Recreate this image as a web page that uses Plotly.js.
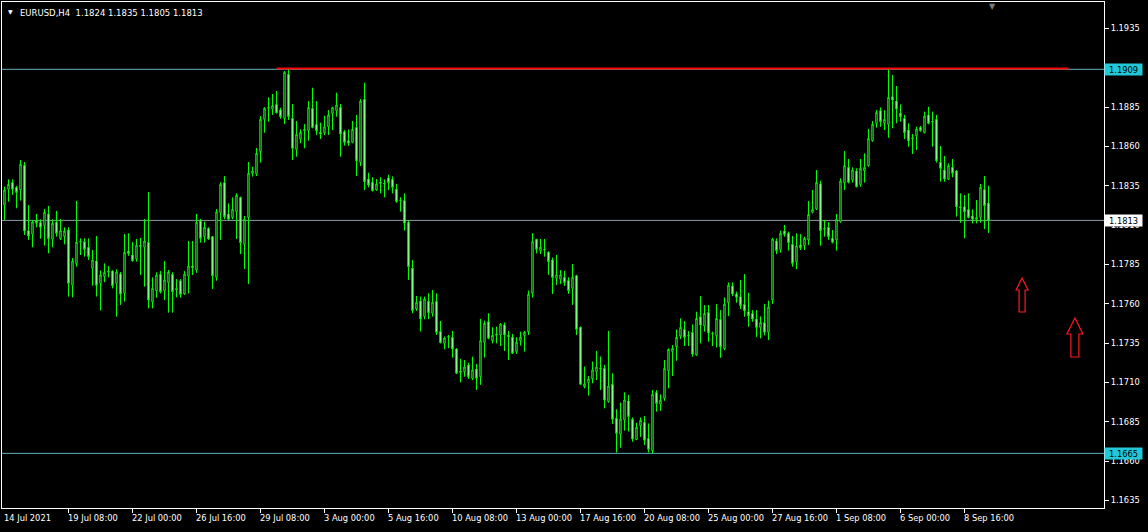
<!DOCTYPE html>
<html><head><meta charset="utf-8">
<script src="https://cdn.plot.ly/plotly-3.0.1.min.js"></script>
<style>html,body{margin:0;padding:0;background:#000;overflow:hidden}#chart{width:1148px;height:532px}</style>
</head><body><div id="chart"></div>
<script>
const symbolName = 'EURUSD,H4';
const openP = [
1.18228,1.18328,1.18370,1.18340,1.18323,1.18480,1.18065,1.18042,1.18126,1.18116,
1.18097,1.18171,1.18010,1.18118,1.18014,1.18027,1.18069,1.17718,1.17857,1.17991,
1.17995,1.17959,1.17826,1.17872,1.17730,1.17773,1.17800,1.17809,1.17730,1.17790,
1.17667,1.17935,1.17910,1.17885,1.17972,1.17959,1.17991,1.17613,1.17683,1.17787,
1.17683,1.17734,1.17787,1.17687,1.17747,1.17662,1.17776,1.17840,1.17815,1.18128,
1.18027,1.18079,1.18027,1.17768,1.18179,1.18370,1.18171,1.18149,1.18185,1.18276,
1.17978,1.18149,1.18429,1.18425,1.18567,1.18772,1.18842,1.18838,1.18867,1.18831,
1.18778,1.19058,1.18778,1.18581,1.18647,1.18700,1.18700,1.18842,1.18740,1.18689,
1.18687,1.18725,1.18810,1.18827,1.18848,1.18694,1.18636,1.18626,1.18721,1.18499,
1.18899,1.18393,1.18372,1.18323,1.18372,1.18366,1.18400,1.18390,1.18328,1.18255,
1.18256,1.18118,1.17826,1.17567,1.17618,1.17519,1.17616,1.17540,1.17616,1.17424,
1.17349,1.17387,1.17387,1.17313,1.17163,1.17169,1.17211,1.17127,1.17186,1.17137,
1.17356,1.17487,1.17366,1.17400,1.17402,1.17466,1.17400,1.17388,1.17296,1.17366,
1.17398,1.17423,1.17667,1.18010,1.17938,1.17947,1.17928,1.17879,1.17762,1.17756,
1.17769,1.17748,1.17699,1.17779,1.17451,1.17074,1.17100,1.17123,1.17169,1.17190,
1.17190,1.16979,1.17089,1.16873,1.16771,1.16862,1.16983,1.16866,1.16738,1.16826,
1.16847,1.16745,1.16667,1.17037,1.16963,1.16999,1.17175,1.17296,1.17327,1.17395,
1.17437,1.17401,1.17418,1.17274,1.17518,1.17459,1.17545,1.17412,1.17397,1.17501,
1.17315,1.17607,1.17713,1.17662,1.17645,1.17596,1.17550,1.17539,1.17503,1.17450,
1.17480,1.17420,1.17625,1.17999,1.17946,1.18062,1.18048,1.17978,1.17868,1.17974,
1.17969,1.18006,1.18181,1.18202,1.18361,1.18079,1.18086,1.18016,1.18006,1.18122,
1.18370,1.18467,1.18387,1.18444,1.18359,1.18446,1.18478,1.18636,1.18747,1.18827,
1.18747,1.18740,1.18916,1.18888,1.18810,1.18778,1.18704,1.18655,1.18668,1.18721,
1.18687,1.18800,1.18760,1.18772,1.18499,1.18450,1.18391,1.18467,1.18444,1.18217,
1.18217,1.18200,1.18158,1.18137,1.18149,1.18327,1.18240];
const highP = [
1.18344,1.18391,1.18391,1.18349,1.18514,1.18501,1.18228,1.18133,1.18171,1.18137,
1.18203,1.18222,1.18137,1.18190,1.18139,1.18086,1.18086,1.17891,1.18254,1.18016,
1.18016,1.18016,1.17942,1.18031,1.17811,1.17857,1.17840,1.17811,1.17819,1.17802,
1.18044,1.18048,1.17993,1.18012,1.18020,1.18139,1.18310,1.17768,1.17800,1.17808,
1.17872,1.17815,1.17800,1.17757,1.17757,1.17808,1.17999,1.17999,1.18171,1.18139,
1.18122,1.18086,1.18031,1.18202,1.18372,1.18412,1.18238,1.18276,1.18302,1.18281,
1.18158,1.18501,1.18471,1.18590,1.18793,1.18848,1.18912,1.18933,1.18952,1.18846,
1.19079,1.19090,1.18869,1.18761,1.18708,1.18742,1.18888,1.18973,1.18888,1.18751,
1.18795,1.18831,1.18852,1.18941,1.18869,1.18704,1.18708,1.18761,1.18800,1.18901,
1.19005,1.18433,1.18404,1.18393,1.18404,1.18390,1.18420,1.18410,1.18362,1.18277,
1.18302,1.18129,1.17879,1.17650,1.17646,1.17646,1.17667,1.17688,1.17667,1.17491,
1.17392,1.17402,1.17428,1.17318,1.17250,1.17243,1.17226,1.17264,1.17218,1.17504,
1.17493,1.17540,1.17451,1.17455,1.17476,1.17481,1.17428,1.17409,1.17388,1.17423,
1.17428,1.17684,1.18048,1.18012,1.18012,1.18012,1.17932,1.17894,1.17911,1.17815,
1.17809,1.17769,1.17853,1.17784,1.17455,1.17201,1.17142,1.17233,1.17301,1.17265,
1.17212,1.17428,1.17159,1.16930,1.16972,1.17038,1.17021,1.16878,1.16844,1.16878,
1.16887,1.16840,1.17052,1.17052,1.17025,1.17243,1.17317,1.17338,1.17437,1.17507,
1.17490,1.17427,1.17469,1.17550,1.17649,1.17592,1.17592,1.17423,1.17598,1.17560,
1.17641,1.17736,1.17736,1.17677,1.17751,1.17789,1.17670,1.17560,1.17560,1.17520,
1.17600,1.17620,1.18020,1.18016,1.18065,1.18101,1.18058,1.18031,1.18048,1.18043,
1.18027,1.18253,1.18323,1.18450,1.18382,1.18133,1.18118,1.18069,1.18171,1.18397,
1.18571,1.18520,1.18467,1.18461,1.18520,1.18556,1.18711,1.18761,1.18831,1.18848,
1.18831,1.19090,1.19054,1.18984,1.18867,1.18800,1.18747,1.18679,1.18725,1.18730,
1.18821,1.18852,1.18821,1.18800,1.18603,1.18539,1.18492,1.18520,1.18450,1.18302,
1.18291,1.18302,1.18200,1.18259,1.18361,1.18412,1.18350];
const lowP = [
1.18133,1.18249,1.18292,1.18207,1.18256,1.18037,1.18006,1.17959,1.18086,1.18014,
1.17970,1.17921,1.17959,1.18027,1.18006,1.17978,1.17646,1.17641,1.17836,1.17910,
1.17900,1.17879,1.17715,1.17646,1.17557,1.17737,1.17768,1.17698,1.17518,1.17593,
1.17614,1.17905,1.17868,1.17868,1.17783,1.17709,1.17571,1.17571,1.17639,1.17666,
1.17624,1.17544,1.17544,1.17641,1.17639,1.17656,1.17666,1.17783,1.17797,1.17989,
1.17989,1.18006,1.17694,1.17747,1.18006,1.18137,1.18133,1.18137,1.18012,1.17916,
1.17821,1.17726,1.18408,1.18412,1.18497,1.18687,1.18757,1.18800,1.18810,1.18776,
1.18742,1.18768,1.18514,1.18535,1.18620,1.18588,1.18636,1.18715,1.18672,1.18647,
1.18672,1.18672,1.18704,1.18789,1.18535,1.18605,1.18603,1.18620,1.18412,1.18475,
1.18323,1.18340,1.18314,1.18317,1.18302,1.18277,1.18323,1.18302,1.18243,1.18186,
1.18065,1.17752,1.17540,1.17555,1.17424,1.17502,1.17502,1.17519,1.17402,1.17349,
1.17311,1.17318,1.17258,1.17154,1.17101,1.17137,1.17123,1.17116,1.17053,1.17085,
1.17258,1.17375,1.17349,1.17349,1.17332,1.17300,1.17243,1.17282,1.17282,1.17335,
1.17296,1.17402,1.17640,1.17921,1.17917,1.17900,1.17784,1.17663,1.17720,1.17726,
1.17714,1.17663,1.17593,1.17402,1.17085,1.17063,1.17017,1.17095,1.17116,1.17053,
1.16936,1.16972,1.16837,1.16655,1.16686,1.16794,1.16788,1.16724,1.16734,1.16755,
1.16703,1.16655,1.16650,1.16914,1.16921,1.16984,1.17063,1.17141,1.17238,1.17376,
1.17332,1.17332,1.17264,1.17270,1.17349,1.17423,1.17359,1.17332,1.17323,1.17257,
1.17306,1.17522,1.17649,1.17607,1.17567,1.17518,1.17454,1.17486,1.17390,1.17380,
1.17400,1.17370,1.17600,1.17916,1.17925,1.18027,1.17938,1.17836,1.17821,1.17942,
1.17942,1.17974,1.18175,1.18196,1.17969,1.18027,1.18006,1.17984,1.17938,1.18115,
1.18323,1.18365,1.18370,1.18340,1.18344,1.18370,1.18471,1.18630,1.18719,1.18725,
1.18704,1.18655,1.18715,1.18747,1.18757,1.18647,1.18598,1.18552,1.18577,1.18694,
1.18683,1.18740,1.18598,1.18497,1.18376,1.18376,1.18387,1.18404,1.18154,1.18115,
1.18016,1.18143,1.18111,1.18111,1.18115,1.18075,1.18050];
const closeP = [
1.18323,1.18359,1.18328,1.18308,1.18486,1.18063,1.18031,1.18120,1.18112,1.18086,
1.18181,1.18014,1.18112,1.18048,1.18065,1.18063,1.17730,1.17872,1.17991,1.17997,
1.17946,1.17900,1.17879,1.17718,1.17783,1.17800,1.17809,1.17715,1.17802,1.17662,
1.17927,1.17919,1.17874,1.17972,1.17965,1.17999,1.17624,1.17698,1.17783,1.17677,
1.17751,1.17802,1.17677,1.17698,1.17660,1.17789,1.17840,1.17830,1.18118,1.18016,
1.18086,1.18012,1.17778,1.18185,1.18359,1.18154,1.18137,1.18200,1.18289,1.17988,
1.18137,1.18429,1.18444,1.18556,1.18772,1.18842,1.18848,1.18859,1.18814,1.18789,
1.19071,1.18789,1.18588,1.18677,1.18689,1.18708,1.18848,1.18721,1.18700,1.18679,
1.18725,1.18800,1.18846,1.18863,1.18679,1.18626,1.18620,1.18708,1.18509,1.18888,
1.18376,1.18355,1.18319,1.18361,1.18366,1.18362,1.18370,1.18340,1.18249,1.18256,
1.18112,1.17836,1.17557,1.17610,1.17504,1.17631,1.17544,1.17610,1.17419,1.17353,
1.17383,1.17392,1.17313,1.17159,1.17173,1.17199,1.17137,1.17180,1.17127,1.17366,
1.17476,1.17381,1.17400,1.17409,1.17472,1.17402,1.17392,1.17286,1.17356,1.17388,
1.17419,1.17661,1.17995,1.17947,1.17959,1.17942,1.17868,1.17767,1.17784,1.17784,
1.17735,1.17684,1.17769,1.17438,1.17089,1.17091,1.17123,1.17180,1.17199,1.17186,
1.16989,1.17078,1.16867,1.16777,1.16868,1.16989,1.16883,1.16741,1.16815,1.16859,
1.16734,1.16675,1.17025,1.16967,1.16988,1.17190,1.17310,1.17317,1.17387,1.17450,
1.17387,1.17397,1.17281,1.17507,1.17465,1.17539,1.17416,1.17410,1.17507,1.17327,
1.17598,1.17719,1.17662,1.17641,1.17588,1.17556,1.17524,1.17503,1.17450,1.17480,
1.17420,1.17580,1.18012,1.17938,1.18048,1.18041,1.17989,1.17857,1.17969,1.17957,
1.18016,1.18168,1.18200,1.18372,1.18065,1.18075,1.18027,1.17991,1.18137,1.18380,
1.18478,1.18372,1.18450,1.18344,1.18461,1.18467,1.18651,1.18740,1.18816,1.18757,
1.18772,1.18912,1.18895,1.18838,1.18789,1.18687,1.18636,1.18651,1.18711,1.18700,
1.18793,1.18747,1.18757,1.18509,1.18461,1.18393,1.18478,1.18429,1.18217,1.18211,
1.18185,1.18149,1.18137,1.18149,1.18340,1.18223,1.18130];

const timeTickIdx = [0,16,32,48,64,80,96,112,128,144,160,176,192,208,224,240];
const timeTickLabels = ['14 Jul 2021','19 Jul 08:00','22 Jul 00:00','26 Jul 16:00','29 Jul 08:00','3 Aug 00:00','5 Aug 16:00','10 Aug 08:00','13 Aug 00:00','17 Aug 16:00','20 Aug 08:00','25 Aug 00:00','27 Aug 16:00','1 Sep 08:00','6 Sep 00:00','8 Sep 16:00'];
const priceTicks = [1.1635,1.1660,1.1685,1.1710,1.1735,1.1760,1.1785,1.1810,1.1835,1.1860,1.1885,1.1910,1.1935];
// 1.1910 is hidden behind the 1.1909 level label in the reference
const priceTickLabels = ['1.1635','1.1660','1.1685','1.1710','1.1735','1.1760','1.1785','1.1810','1.1835','1.1860','1.1885','','1.1935'];
const levelPrices = [1.1909, 1.1813, 1.1665];
const trendIdx = [68, 266];
const trendPrice = [1.19095, 1.19095];
const arrowIdx = [254.4, 267.6];
const arrowPrice = [1.17764, 1.17510];

// ---- styles / layout ----
const GREEN = '#00ff00';
const FONT = 'DejaVu Sans';
const barIdx = openP.map((_, i) => i);
const nBars = openP.length;

const yTop = 1.195176, yBot = 1.163028;

const traces = [{
  type: 'candlestick', x: barIdx, open: openP, high: highP, low: lowP, close: closeP,
  increasing: {line: {color: GREEN, width: 1}, fillcolor: '#000000'},
  decreasing: {line: {color: GREEN, width: 1}, fillcolor: '#ffffff'},
  whiskerwidth: 0, hoverinfo: 'skip', showlegend: false
}, {
  type: 'scatter', mode: 'lines', x: trendIdx, y: trendPrice,
  line: {color: '#ff0000', width: 2}, hoverinfo: 'skip', showlegend: false
}];

const levelStyle = [
  {line: '#5fb3c0', bg: '#22c8d8', fg: '#000'},
  {line: '#8d99a8', bg: '#ffffff', fg: '#000'},
  {line: '#5fb3c0', bg: '#22c8d8', fg: '#000'}
];

const shapes = [];
levelPrices.forEach((p, k) => {
  shapes.push({type: 'line', xref: 'paper', x0: 0, x1: 1, yref: 'y', y0: p, y1: p,
    line: {color: levelStyle[k].line, width: 1}, layer: 'below'});
});
const arrowPaths = [
  'M0,0 L6,-12 L3,-12 L3,-34 L-3,-34 L-3,-12 L-6,-12 Z',
  'M0,0 L8,-16 L4,-16 L4,-39 L-4,-39 L-4,-16 L-8,-16 Z'
];
arrowIdx.forEach((xi, k) => {
  shapes.push({type: 'path', xref: 'x', yref: 'y', xsizemode: 'pixel', ysizemode: 'pixel',
    xanchor: xi, yanchor: arrowPrice[k], path: arrowPaths[k],
    line: {color: '#ff1a1a', width: 1.2}, fillcolor: 'rgba(0,0,0,0)'});
});

const annotations = [];
timeTickIdx.forEach((xi, k) => {
  annotations.push({xref: 'x', yref: 'paper', x: xi, y: 0, xanchor: 'left', yanchor: 'top',
    text: timeTickLabels[k], showarrow: false, xshift: -2, yshift: -4, borderpad: 0,
    font: {family: FONT, size: 8.3, color: '#ffffff'}});
});
levelPrices.forEach((p, k) => {
  annotations.push({xref: 'paper', yref: 'y', x: 1, y: p, xanchor: 'left', yanchor: 'middle',
    text: p.toFixed(4), showarrow: false, xshift: 0, bgcolor: levelStyle[k].bg, borderpad: 0,
    width: 37, height: 11, align: 'center',
    font: {family: FONT, size: 8.3, color: levelStyle[k].fg}});
});
const last = nBars - 1;
annotations.push({xref: 'paper', yref: 'paper', x: 0, y: 1, xanchor: 'left', yanchor: 'top',
  xshift: 4, yshift: -4, showarrow: false, text: '\u25BC', font: {family: FONT, size: 6, color: '#ffffff'}});
annotations.push({xref: 'paper', yref: 'paper', x: 0, y: 1, xanchor: 'left', yanchor: 'top',
  xshift: 17, yshift: -5, showarrow: false, borderpad: 0,
  text: symbolName + '\u00a0\u00a0' + [openP[last], highP[last], lowP[last], closeP[last]].map(v => v.toFixed(4)).join(' '),
  font: {family: FONT, size: 8.5, color: '#ffffff'}});
annotations.push({xref: 'x', yref: 'paper', x: nBars, y: 1, xanchor: 'center', yanchor: 'top',
  yshift: 2, showarrow: false, text: '\u25BC', font: {family: FONT, size: 8, color: '#7a7a7a'}});

const layout = {
  width: 1148, height: 532,
  paper_bgcolor: '#000000', plot_bgcolor: '#000000',
  margin: {l: 2, r: 44, t: 2, b: 24, pad: 0},
  showlegend: false, boxgap: 0.5,
  font: {family: FONT, size: 8.3, color: '#ffffff'},
  xaxis: {range: [-0.625, 274.875], showgrid: false, zeroline: false, showline: true,
    linecolor: '#ffffff', linewidth: 1, mirror: true, ticks: 'outside', ticklen: 4,
    tickcolor: '#ffffff', tickvals: timeTickIdx.slice(1), showticklabels: false,
    rangeslider: {visible: false}, fixedrange: true},
  yaxis: {side: 'right', range: [yBot, yTop], showgrid: false, zeroline: false, showline: true,
    linecolor: '#ffffff', linewidth: 1, mirror: true, ticks: 'outside', ticklen: 4,
    tickcolor: '#ffffff', tickvals: priceTicks, ticktext: priceTickLabels,
    tickfont: {family: FONT, size: 8.3, color: '#ffffff'}, fixedrange: true},
  shapes: shapes, annotations: annotations
};
Plotly.newPlot('chart', traces, layout, {displayModeBar: false, staticPlot: true});
</script></body></html>
